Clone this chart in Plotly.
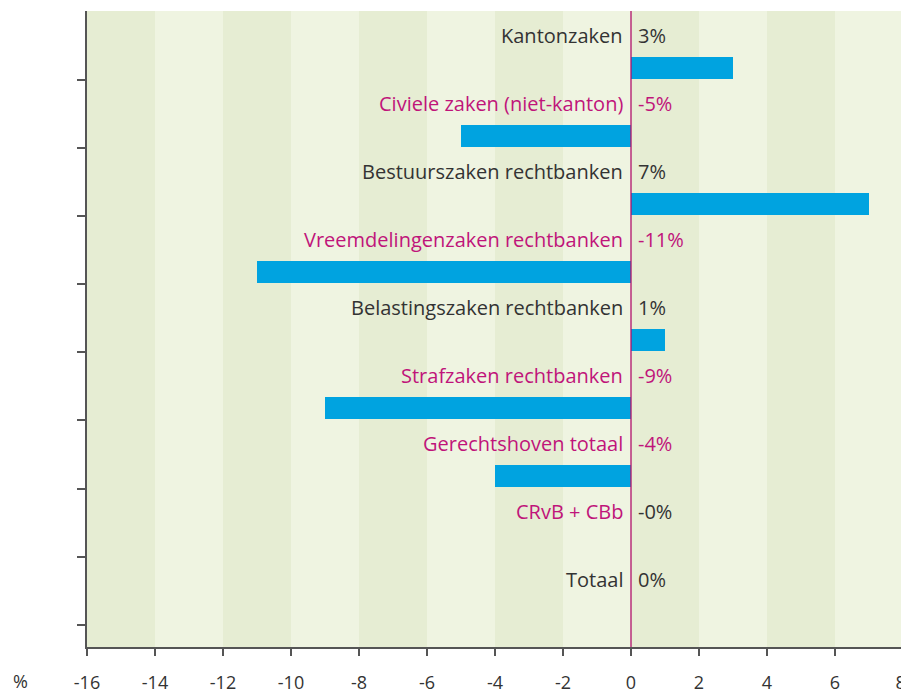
import plotly.graph_objects as go

categories = ["Kantonzaken", "Civiele zaken (niet-kanton)", "Bestuurszaken rechtbanken",
              "Vreemdelingenzaken rechtbanken", "Belastingszaken rechtbanken",
              "Strafzaken rechtbanken", "Gerechtshoven totaal", "CRvB + CBb", "Totaal"]
values = [3, -5, 7, -11, 1, -9, -4, 0, 0]
value_labels = ["3%", "-5%", "7%", "-11%", "1%", "-9%", "-4%", "-0%", "0%"]
name_neg = [False, True, False, True, False, True, True, True, False]
value_neg = [False, True, False, True, False, True, True, False, False]
x_ticks = [-16, -14, -12, -10, -8, -6, -4, -2, 0, 2, 4, 6, 8]
x_tick_labels = ["-16", "-14", "-12", "-10", "-8", "-6", "-4", "-2", "0", "2", "4", "6", "8"]

DARK = "#333333"
MAG = "#C0147A"
BLUE = "#00A3E0"
FONT = "Open Sans"

ypos = list(range(len(categories)))

fig = go.Figure()
fig.add_trace(go.Bar(
    x=values, y=ypos, orientation="h", width=0.32,
    marker=dict(color=BLUE, line=dict(width=0)),
    hoverinfo="skip", showlegend=False,
))

shapes = []
for i in range(12):
    x0 = -16 + 2 * i
    shapes.append(dict(type="rect", xref="x", yref="paper", x0=x0, x1=x0 + 2, y0=0, y1=1,
                       fillcolor="#E6EDD3" if i % 2 == 0 else "#EFF4E1",
                       line=dict(width=0), layer="below"))
shapes.append(dict(type="line", xref="x", yref="paper", x0=0, x1=0, y0=0, y1=1,
                   line=dict(color="#B0106A", width=1.3)))

annotations = []
for i, (c, v) in enumerate(zip(categories, value_labels)):
    annotations.append(dict(x=0, y=i - 0.485, xref="x", yref="y", text=c, showarrow=False,
                            xanchor="right", yanchor="middle", xshift=-6,
                            font=dict(family=FONT, size=20, color=MAG if name_neg[i] else DARK)))
    annotations.append(dict(x=0, y=i - 0.485, xref="x", yref="y", text=v, showarrow=False,
                            xanchor="left", yanchor="middle", xshift=5,
                            font=dict(family=FONT, size=20, color=MAG if value_neg[i] else DARK)))
annotations.append(dict(xref="x domain", yref="y domain", x=-0.082, y=-0.054, text="%",
                        showarrow=False, xanchor="center", yanchor="middle",
                        font=dict(family=FONT, size=18, color=DARK)))

# keep the last tick label fully inside the page
tick_text = list(x_tick_labels)
tick_text[-1] = tick_text[-1] + "\u00a0"

fig.update_layout(
    width=901, height=685,
    margin=dict(l=79, r=6, t=3, b=46),
    paper_bgcolor="white", plot_bgcolor="#EFF4E1",
    shapes=shapes, annotations=annotations,
    bargap=0,
    xaxis=dict(range=[-16, 8], tickvals=x_ticks, ticktext=tick_text,
               showgrid=False, zeroline=False, showline=True, linecolor="#555555", linewidth=2,
               ticks="outside", ticklen=7, tickcolor="#555555", tickwidth=1.5,
               tickfont=dict(family=FONT, size=18, color=DARK), ticklabelstandoff=11,
               ticklabeloverflow="allow",
               automargin=False, fixedrange=True),
    yaxis=dict(range=[8.51, -0.84], tickvals=[i + 0.18 for i in ypos], showticklabels=False,
               showgrid=False, zeroline=False, showline=True, linecolor="#555555", linewidth=2,
               ticks="outside", ticklen=8, tickcolor="#555555", tickwidth=1.5,
               automargin=False, fixedrange=True),
)

fig.write_html("out.html")
